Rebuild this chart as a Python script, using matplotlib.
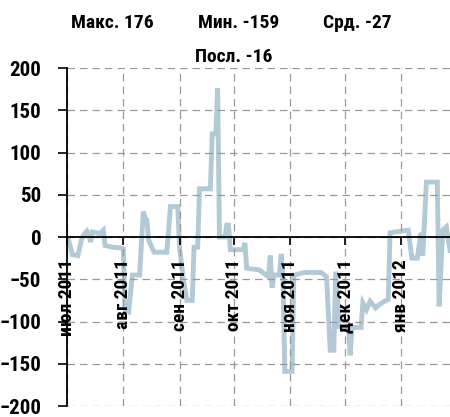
import numpy as np
import pandas as pd
import matplotlib
matplotlib.use("Agg")
import matplotlib.pyplot as plt
import matplotlib.dates as mdates
from matplotlib import font_manager

# ищем узкий шрифт, если есть
names = {f.name for f in font_manager.fontManager.ttflist}
fam = [n for n in ['Liberation Sans Narrow', 'DejaVu Sans Condensed', 'Roboto Condensed', 'Roboto'] if n in names]
plt.rcParams['font.family'] = fam + ['DejaVu Sans']

# дни от 1 июля 2011 и значения
start = pd.Timestamp('2011-07-01')
days = [0, 1, 3, 6, 8, 9, 11, 12, 13, 14, 16, 18, 20, 21, 25, 30, 31, 32, 34, 36,
        40, 42, 43, 44, 45, 48, 55, 57, 61, 62, 64, 66, 69, 70, 72, 73, 79, 80, 82, 83,
        84, 87, 88, 89, 90, 97, 98, 99, 106, 109, 111, 112, 113, 114, 117, 118, 119, 120, 124, 125,
        131, 140, 143, 145, 147, 148, 150, 155, 156, 157, 162, 163, 165, 167, 170, 172, 175, 177, 178, 181,
        188, 190, 193, 195, 196, 198, 204, 205, 207, 209, 211]
values = [-8, -5, -21, -22, -3, 2, 7, 3, -6, 6, 5, 4, 8, -10, -12, -13, -14, -85, -88, -45,
          -45, 30, 23, 20, -4, -18, -18, 36, 36, -12, -49, -75, -75, -12, -12, 57, 57, 122, 122, 176,
          0, 0, 14, 14, -15, -15, -7, -37, -39, -44, -47, -22, -60, -45, -45, -20, -50, -159, -159, -45,
          -42, -42, -47, -134, -134, -41, -106, -106, -140, -107, -107, -78, -86, -76, -84, -80, -76, -74, 5, 6,
          8, -25, -25, 5, -22, 65, 65, -82, 8, 12, -16]

month_labels = ['июл 2011', 'авг 2011', 'сен 2011', 'окт 2011', 'ноя 2011', 'дек 2011', 'янв 2012']
stats = [('Макс. 176', 112, 23), ('Мин. -159', 239, 23), ('Срд. -27', 357, 23), ('Посл. -16', 234, 57)]

dates = start + pd.to_timedelta(days, unit='D')

fig = plt.figure(figsize=(4.5, 4.17), dpi=100)
ax = fig.add_axes([67 / 450, 1 - 406 / 417, 383 / 450, 338 / 417])

ax.plot(dates, values, color='#b2c9d6', linewidth=3.5, solid_joinstyle='miter', zorder=1)

ax.set_ylim(-200, 200)
ax.set_yticks(np.arange(-200, 201, 50))
ax.set_xlim(dates[0], dates[-1])
ax.xaxis.set_major_locator(mdates.MonthLocator())
ax.set_xticklabels(month_labels)

ax.spines['top'].set_visible(False)
ax.spines['right'].set_visible(False)
ax.spines['bottom'].set_position(('data', 0))
ax.spines['left'].set_linewidth(1.3)
ax.spines['bottom'].set_linewidth(1.3)

ax.tick_params(axis='y', direction='out', length=6.5, width=1.2, pad=12, labelsize=15)
ax.tick_params(axis='x', direction='out', length=6, width=1.2, pad=10, labelsize=14, labelrotation=90)
for lab in ax.get_xticklabels() + ax.get_yticklabels():
    lab.set_fontweight('bold')

ax.grid(True, color='#999999', linestyle=(0, (6, 4)), linewidth=0.9)

for txt, x, y in stats:
    fig.text(x / 450, 1 - y / 417, txt, ha='center', va='center', fontsize=14, fontweight='bold')

fig.savefig('out.png', dpi=100)
